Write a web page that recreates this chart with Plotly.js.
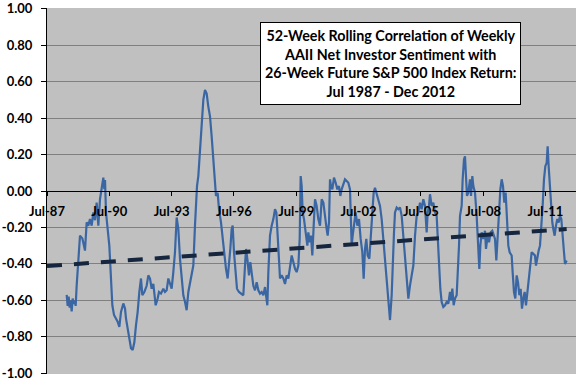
<!DOCTYPE html>
<html>
<head>
<meta charset="utf-8">
<script src="https://cdn.plot.ly/plotly-3.0.1.min.js"></script>
<style>html,body{margin:0;padding:0;background:#fff;}#chart{width:576px;height:384px;}</style>
</head>
<body>
<div id="chart"></div>
<script>
const corrYears = [
1988.447,1988.495,1988.543,1988.591,1988.639,1988.687,1988.735,1988.783,1988.832,1988.880,
1988.928,1989.009,1989.089,1989.201,1989.329,1989.410,1989.490,1989.570,1989.651,1989.731,
1989.811,1989.891,1989.972,1990.052,1990.132,1990.212,1990.260,1990.293,1990.341,1990.421,
1990.501,1990.581,1990.646,1990.726,1990.822,1990.902,1990.983,1991.063,1991.175,1991.256,
1991.304,1991.384,1991.448,1991.544,1991.625,1991.705,1991.785,1991.865,1991.946,1992.026,
1992.090,1992.186,1992.299,1992.379,1992.459,
1992.539,1992.619,1992.732,1992.828,1992.892,1992.988,1993.101,1993.181,1993.261,1993.342,
1993.422,1993.502,1993.582,1993.662,1993.743,1993.823,1993.903,1993.984,1994.064,1994.144,
1994.224,1994.305,1994.385,1994.465,1994.545,1994.625,1994.674,1994.722,1994.786,1994.866,
1994.946,1995.027,1995.107,1995.187,1995.267,1995.348,1995.428,1995.508,1995.588,1995.636,
1995.717,1995.781,1995.877,1995.941,1996.038,1996.118,1996.198,1996.262,1996.326,1996.391,
1996.439,1996.503,1996.583,1996.647,
1996.744,1996.873,1996.953,1997.034,1997.082,1997.146,1997.226,1997.290,1997.355,1997.435,
1997.515,1997.595,1997.676,1997.756,1997.836,1997.916,1997.997,1998.045,1998.109,1998.157,
1998.237,1998.318,1998.398,1998.478,1998.542,1998.606,1998.671,1998.719,1998.799,1998.879,
1998.959,1999.040,1999.120,1999.200,1999.281,1999.361,1999.441,1999.521,1999.602,1999.666,
1999.714,1999.762,1999.810,1999.874,1999.922,1999.970,2000.035,2000.083,2000.147,2000.211,
2000.275,2000.340,2000.404,2000.484,2000.564,2000.645,2000.725,2000.805,2000.885,
2000.965,2001.013,2001.078,2001.126,2001.174,2001.238,2001.318,2001.399,2001.479,2001.559,
2001.623,2001.687,2001.768,2001.848,2001.928,2002.009,2002.089,2002.137,2002.169,2002.217,
2002.297,2002.362,2002.442,2002.522,2002.602,2002.683,2002.747,2002.811,2002.875,2002.939,
2003.020,2003.100,2003.164,2003.228,2003.292,2003.373,2003.453,2003.533,2003.613,2003.694,
2003.774,2003.854,2003.935,2004.015,2004.095,2004.143,2004.207,2004.255,2004.336,2004.416,
2004.496,2004.577,2004.657,2004.737,2004.817,2004.898,2004.978,2005.058,2005.138,2005.219,
2005.299,2005.379,
2005.459,2005.539,2005.619,2005.700,2005.780,2005.828,2005.892,2005.940,2006.021,2006.101,
2006.181,2006.261,2006.309,2006.374,2006.438,2006.502,2006.582,2006.663,2006.743,2006.823,
2006.903,2006.951,2007.016,2007.080,2007.144,2007.224,2007.272,2007.337,2007.385,2007.465,
2007.513,2007.577,2007.625,2007.674,2007.722,2007.786,2007.866,2007.914,2007.978,2008.027,
2008.107,2008.187,2008.267,2008.315,2008.364,2008.428,2008.508,2008.588,2008.636,2008.717,
2008.781,2008.861,2008.941,2009.006,2009.070,2009.134,2009.198,2009.262,2009.327,2009.391,
2009.455,2009.519,2009.583,2009.648,2009.712,2009.776,
2009.872,2009.920,2009.984,2010.048,2010.113,2010.177,2010.241,2010.305,2010.369,2010.434,
2010.498,2010.562,2010.626,2010.690,2010.754,2010.835,2010.915,2010.995,2011.043,2011.108,
2011.172,2011.236,2011.300,2011.364,2011.429,2011.493,2011.557,2011.605,2011.653,2011.717,
2011.766,2011.830,2011.878,2011.942,2012.006,2012.071,2012.135,2012.199,2012.263,2012.327,
2012.392,2012.440,2012.520
];
const corrValues = [
-0.57,-0.63,-0.58,-0.64,-0.60,-0.66,-0.59,-0.62,-0.60,-0.63,
-0.52,-0.354,-0.245,-0.26,-0.327,-0.172,-0.19,-0.154,-0.19,-0.118,
-0.16,-0.063,-0.19,-0.045,0.01,0.073,0.01,0.06,-0.118,-0.209,
-0.30,-0.48,-0.627,-0.68,-0.70,-0.717,-0.745,-0.663,-0.617,-0.645,
-0.70,-0.754,-0.80,-0.863,-0.872,-0.83,-0.736,-0.663,-0.554,-0.48,
-0.572,-0.554,-0.52,-0.463,-0.48,
-0.536,-0.51,-0.627,-0.59,-0.554,-0.563,-0.536,-0.554,-0.545,-0.48,
-0.51,-0.536,-0.445,-0.336,-0.145,-0.209,-0.372,-0.48,-0.572,-0.608,
-0.654,-0.554,-0.50,-0.463,-0.409,-0.19,-0.082,0.027,0.082,0.245,
0.39,0.50,0.554,0.535,0.463,0.41,0.30,0.173,0.027,-0.027,
-0.01,-0.10,-0.172,-0.245,-0.336,-0.427,-0.48,-0.409,-0.318,-0.209,
-0.19,-0.336,-0.463,-0.536,
-0.554,-0.563,-0.572,-0.409,-0.318,-0.372,-0.463,-0.39,-0.445,-0.52,
-0.545,-0.50,-0.545,-0.563,-0.554,-0.572,-0.527,-0.59,-0.627,-0.445,
-0.245,-0.19,-0.154,-0.10,-0.118,-0.245,-0.372,-0.48,-0.463,-0.48,
-0.51,-0.463,-0.48,-0.409,-0.354,-0.39,-0.427,-0.445,-0.409,-0.263,
0.082,0.027,-0.118,-0.154,-0.209,-0.263,-0.30,-0.227,-0.281,-0.245,
-0.354,-0.19,-0.045,-0.082,-0.154,-0.19,-0.045,-0.063,-0.154,
-0.209,-0.245,-0.172,0.064,0.027,0.009,0.073,0.045,0.009,0.027,
-0.027,0.009,0.045,0.064,0.055,0.045,0.009,-0.154,-0.30,-0.245,
-0.154,-0.118,-0.19,-0.154,-0.263,-0.336,-0.481,-0.318,-0.263,-0.354,
-0.372,-0.227,-0.118,-0.009,0.018,-0.018,-0.045,-0.082,-0.154,-0.263,
-0.409,-0.518,-0.609,-0.708,-0.572,-0.39,-0.227,-0.118,-0.091,-0.10,
-0.091,-0.136,-0.263,-0.39,-0.50,-0.59,-0.518,-0.463,-0.409,-0.245,
-0.136,-0.118,
-0.064,-0.10,-0.045,-0.082,-0.227,-0.118,-0.082,-0.018,-0.082,-0.064,
-0.118,-0.136,-0.263,-0.445,-0.536,-0.609,-0.636,-0.627,-0.609,-0.618,
-0.554,-0.60,-0.536,-0.627,-0.59,-0.572,-0.481,-0.30,-0.136,-0.082,
0.064,0.173,0.19,0.10,-0.027,-0.009,0.064,-0.027,0.082,0.027,
-0.009,-0.136,-0.30,-0.427,-0.30,-0.227,-0.263,-0.218,-0.318,-0.245,
-0.281,-0.227,-0.218,-0.245,-0.263,-0.381,-0.245,-0.118,0.009,0.064,
0.027,-0.064,-0.009,-0.154,-0.30,-0.336,
-0.354,-0.445,-0.554,-0.59,-0.463,-0.50,-0.572,-0.536,-0.645,-0.59,
-0.554,-0.627,-0.554,-0.463,-0.409,-0.336,-0.345,-0.354,-0.409,-0.354,
-0.327,-0.30,-0.209,-0.082,0.064,0.136,0.154,0.245,0.136,0.027,
-0.10,-0.173,-0.209,-0.245,-0.19,-0.154,-0.173,-0.136,-0.154,-0.227,
-0.336,-0.40,-0.381
];
// Linear trend line endpoints
const trendYears = [1987.5, 2012.52];
const trendValues = [-0.412, -0.209];

// Axis ticks
const xTickVals = [1987.5,1990.5,1993.5,1996.5,1999.5,2002.5,2005.5,2008.5,2011.5];
const xTickText = ['Jul-87','Jul-90','Jul-93','Jul-96','Jul-99','Jul-02','Jul-05','Jul-08','Jul-11'];
const yTickVals = [-1,-0.8,-0.6,-0.4,-0.2,0,0.2,0.4,0.6,0.8,1];
const yTickText = ['-1.00','-0.80','-0.60','-0.40','-0.20','0.00','0.20','0.40','0.60','0.80','1.00'];

const titleLines = ['52-Week Rolling Correlation of Weekly','AAII Net Investor Sentiment with','26-Week Future S&amp;P 500 Index Return:','Jul 1987 - Dec 2012'];

const tickFont = {family:'Lato, Carlito, sans-serif', size:13, weight:'bold', color:'#000'};

const traces = [
  {x: corrYears, y: corrValues, type:'scatter', mode:'lines',
   line:{color:'#3A67A3', width:2.2}, hoverinfo:'skip', showlegend:false},
  {x: trendYears, y: trendValues, type:'scatter', mode:'lines',
   line:{color:'#16263F', width:4, dash:'15px,12px'}, hoverinfo:'skip', showlegend:false}
];

const layout = {
  width:576, height:384,
  margin:{l:47, r:0, t:8, b:10, pad:0},
  paper_bgcolor:'#FFFFFF', plot_bgcolor:'#C0C0C0',
  showlegend:false,
  xaxis:{range:[1987.5, 2012.97], anchor:'free', position:0.5,
    showline:true, linecolor:'#000', linewidth:1,
    ticks:'outside', ticklen:4, tickcolor:'#000', tickwidth:1,
    tickvals:xTickVals, ticktext:xTickText, ticklabelstandoff:4,
    showgrid:false, zeroline:false, tickfont:tickFont, fixedrange:true},
  yaxis:{range:[-1.004,1.004], showline:true, linecolor:'#000', linewidth:1,
    ticks:'outside', ticklen:5, tickcolor:'#000', tickwidth:1,
    tickvals:yTickVals, ticktext:yTickText, ticklabelstandoff:6,
    ticklabeloverflow:'allow',
    showgrid:true, gridcolor:'#808080', gridwidth:1, zeroline:false,
    tickfont:tickFont, fixedrange:true},
  annotations:[{
    xref:'paper', yref:'paper', x:0.650, y:0.847, xanchor:'center', yanchor:'middle',
    text: titleLines.join('<br>'), showarrow:false, align:'center',
    font:{family:'Lato, Carlito, sans-serif', size:14.3, weight:'bold', color:'#000'},
    bgcolor:'#FFFFFF', bordercolor:'#000', borderwidth:1, borderpad:4
  }]
};

Plotly.newPlot('chart', traces, layout, {staticPlot:true, displayModeBar:false});
</script>
</body>
</html>
